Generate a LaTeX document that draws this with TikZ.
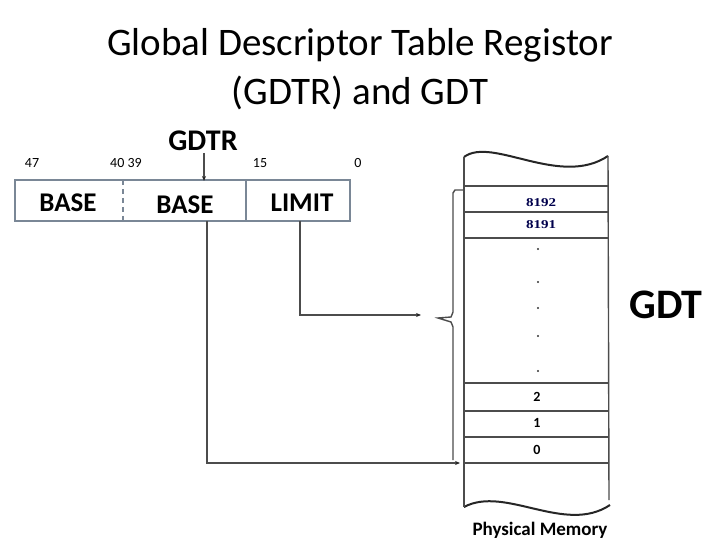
\documentclass[tikz,border=0pt]{standalone}
\usepackage{fontspec}
\setmainfont{Carlito}
\newfontfamily\serifnum{Liberation Serif}
\usetikzlibrary{arrows.meta}
\definecolor{boxc}{RGB}{122,135,150}
\begin{document}
\begin{tikzpicture}[x=1pt,y=-1pt,
  line/.style={draw=black!70,line width=1.4pt},
  arr/.style={line,-{Stealth[length=5pt,width=4pt,color=black!85]}},
  box/.style={draw=boxc,line width=1.6pt},
  field/.style={font=\bfseries\fontsize{27}{27}\selectfont},
  bitno/.style={font=\fontsize{14}{14}\selectfont,anchor=base},
  memnum/.style={font=\serifnum\bfseries\fontsize{12}{12}\selectfont,xscale=1.25,text=blue!30!black},
  memlbl/.style={font=\bfseries\fontsize{14}{14}\selectfont},
  dot/.style={circle,fill=black!80,inner sep=0pt,minimum size=2.2pt}]
\useasboundingbox (0,0) rectangle (720,540);
% title
\node[font=\fontsize{39}{39}\selectfont] (t1) at (360,45) {Global Descriptor Table Registor};
\node[font=\fontsize{39}{39}\selectfont] (t2) at (360,93) {(GDTR) and GDT};
% register
\node[font=\bfseries\fontsize{30}{30}\selectfont] (gdtr) at (203,141) {GDTR};
\draw[box] (15,180) rectangle (350,221);
\draw[box,dash pattern=on 5pt off 4pt] (123,180) -- (123,221);
\draw[box] (246,180) -- (246,221);
\node[field] (b1) at (68,203) {BASE};
\node[field] (b2) at (185,205) {BASE};
\node[field] (lim) at (302,203) {LIMIT};
\node[bitno] (n47) at (32,168) {47};
\node[bitno] (n40) at (126,168) {40 39};
\node[bitno] (n15) at (260,168) {15};
\node[bitno] (n0) at (358,168) {0};
\coordinate (gtop) at (204,153);
\coordinate (gbot) at (204,181);
\draw[arr] (gtop) -- (gbot);
% memory column
\coordinate (mtl) at (464,157);
\coordinate (mtr) at (608,156);
\coordinate (mbl) at (464,507);
\coordinate (mbr) at (610,505);
\draw[black!85,line width=2pt] (464,157) .. controls (492,136) and (560,188) .. (608,156);
\draw[black!85,line width=2pt] (464,507) .. controls (505,485) and (565,535) .. (610,505);
\draw[line] (mtl) -- (mbl);
\draw[line] (mtr) -- (609,500);
\foreach \yy in {186,212,238,383,411,437,463}
  \draw[line] (464,\yy) -- (609,\yy);
\node[memnum] (m8192) at (541,203) {8192};
\node[memnum] (m8191) at (541,225) {8191};
\foreach \yy in {249,282,308,336,371}
  \node[dot] at (538,\yy) {};
\node[memlbl] (m2) at (537,397) {2};
\node[memlbl] (m1) at (537,423) {1};
\node[memlbl] (m0) at (537,450) {0};
\node[font=\bfseries\fontsize{19}{19}\selectfont] (pm) at (540,530) {Physical Memory};
\node[font=\bfseries\fontsize{42}{42}\selectfont] (gdt) at (666,305) {GDT};
% brace
\draw[line] (463,190) -- (455,190) -- (453,193) -- (453,312) -- (451,317) -- (438,318)
  -- (451,322) -- (453,327) -- (453,460);
% connectors
\coordinate (lb) at (300,221);
\coordinate (lc) at (300,315);
\coordinate (lt) at (421,315);
\draw[arr] (lb) -- (lc) -- (lt);
\coordinate (bb) at (207,221);
\coordinate (bc) at (207,463);
\coordinate (bt) at (460,463);
\draw[arr] (bb) -- (bc) -- (bt);
\end{tikzpicture}
\end{document}
